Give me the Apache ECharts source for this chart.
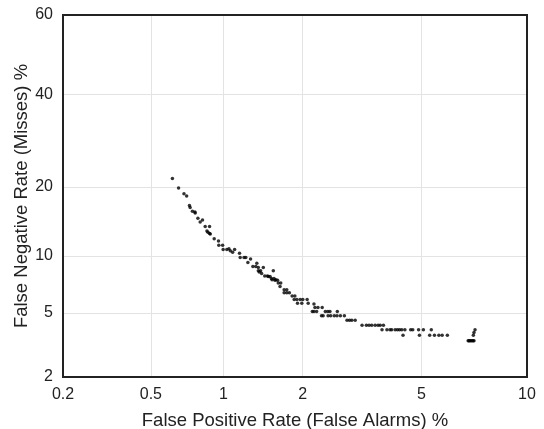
<!DOCTYPE html>
<html>
<head>
<meta charset="utf-8">
<script src="https://cdn.jsdelivr.net/npm/echarts@6/dist/echarts.min.js"></script>
<style>html,body{margin:0;padding:0;background:#fff}#c{width:544px;height:429px}</style>
</head>
<body>
<div id="c"></div>
<script>
// Tick labels (percent)
const xTicks = [0.2, 0.5, 1, 2, 5, 10];
const yTicks = [2, 5, 10, 20, 40, 60];
const xRange = [0.2, 10];
const yRange = [2, 60];

// False positive rate (%) and false negative rate (%)
const fpr = [0.618,0.656,0.691,0.709,0.728,0.733,0.749,0.767,0.769,0.789,0.806,0.824,0.845,0.859,0.867,0.88,0.88,0.886,0.919,0.956,0.959,0.993,0.998,1.032,1.052,1.065,1.088,1.108,1.158,1.165,1.206,1.225,1.248,1.278,1.305,1.339,1.351,1.369,1.369,1.38,1.409,1.43,1.397,1.448,1.482,1.495,1.517,1.534,1.56,1.543,1.569,1.582,1.595,1.619,1.628,1.663,1.653,1.712,1.751,1.712,1.751,1.79,1.832,1.875,1.864,1.907,1.96,2.004,1.917,1.987,2.077,2.095,2.197,2.215,2.27,2.35,2.168,2.197,2.246,2.337,2.368,2.41,2.46,2.502,2.654,2.465,2.517,2.59,2.648,2.72,2.807,2.866,2.923,2.976,3.055,3.222,3.33,3.40,3.47,3.56,3.64,3.70,3.79,3.75,3.89,3.98,4.03,4.135,4.205,4.27,4.34,4.44,4.63,4.70,4.90,5.07,5.36,4.38,4.93,5.30,5.48,5.65,5.78,5.99,7.21,7.16,7.13,6.89,6.93,6.97,7.02,7.07,7.12,7.16];
const fnr = [21.5,19.8,18.8,18.4,16.85,16.5,15.94,15.8,15.65,14.86,14.31,14.6,13.7,13.08,12.9,13.67,12.72,12.67,12.05,11.76,11.25,11.25,10.74,10.74,10.81,10.57,10.42,10.74,10.3,9.81,9.81,9.81,9.27,9.66,8.85,8.85,9.19,8.75,8.42,8.32,8.16,8.75,8.42,7.93,7.93,7.87,7.87,7.7,8.42,7.57,7.7,7.54,7.57,7.54,7.28,7.28,6.98,6.71,6.71,6.47,6.47,6.47,6.2,6.2,5.94,5.94,5.94,5.94,5.67,5.67,5.94,5.67,5.6,5.36,5.36,5.36,5.09,5.09,5.09,4.81,4.81,5.09,5.09,5.09,5.09,4.81,4.81,4.81,4.81,4.81,4.81,4.53,4.53,4.53,4.53,4.24,4.24,4.24,4.24,4.24,4.24,4.24,4.24,3.98,3.98,3.98,3.98,3.98,3.98,3.98,3.98,3.98,3.98,3.98,3.98,3.98,3.98,3.69,3.69,3.69,3.69,3.69,3.69,3.69,3.98,3.84,3.69,3.42,3.42,3.42,3.42,3.42,3.42,3.42];

// Normal deviate (probit) transform used for DET axes
function probit(p) {
  const a=[-3.969683028665376e+01,2.209460984245205e+02,-2.759285104469687e+02,1.383577518672690e+02,-3.066479806614716e+01,2.506628277459239e+00];
  const b=[-5.447609879822406e+01,1.615858368580409e+02,-1.556989798598866e+02,6.680131188771972e+01,-1.328068155288572e+01];
  const c=[-7.784894002430293e-03,-3.223964580411365e-01,-2.400758277161838e+00,-2.549732539343734e+00,4.374664141464968e+00,2.938163982698783e+00];
  const d=[7.784695709041462e-03,3.224671290700398e-01,2.445134137142996e+00,3.754408661907416e+00];
  const pl=0.02425;
  let q,r;
  if (p<pl){q=Math.sqrt(-2*Math.log(p));return (((((c[0]*q+c[1])*q+c[2])*q+c[3])*q+c[4])*q+c[5])/((((d[0]*q+d[1])*q+d[2])*q+d[3])*q+1);}
  if (p<=1-pl){q=p-0.5;r=q*q;return (((((a[0]*r+a[1])*r+a[2])*r+a[3])*r+a[4])*r+a[5])*q/(((((b[0]*r+b[1])*r+b[2])*r+b[3])*r+b[4])*r+1);}
  q=Math.sqrt(-2*Math.log(1-p));return -(((((c[0]*q+c[1])*q+c[2])*q+c[3])*q+c[4])*q+c[5])/((((d[0]*q+d[1])*q+d[2])*q+d[3])*q+1);
}
const pz = v => probit(v/100);
function labelFor(ticks){
  return function(val){
    let best=ticks[0],bd=1e9;
    ticks.forEach(t=>{const dd=Math.abs(pz(t)-val); if(dd<bd){bd=dd;best=t;}});
    return String(best);
  };
}

const txt = {color:'#222', fontFamily:'Liberation Sans, Arial, sans-serif', fontSize:16};
const ttl = {color:'#222', fontFamily:'Liberation Sans, Arial, sans-serif', fontSize:18.5};
const chart = echarts.init(document.getElementById('c'));
chart.setOption({
  animation:false,
  backgroundColor:'#fff',
  grid:{left:63,right:17,top:15,bottom:52,outerBoundsMode:'none',containLabel:false,show:true,borderColor:'#222',borderWidth:2,backgroundColor:'transparent',z:5},
  xAxis:{
    type:'value', min:pz(xRange[0]), max:pz(xRange[1]),
    name:'False Positive Rate (False Alarms) %', nameLocation:'middle', nameGap:34, nameMoveOverlap:false,
    nameTextStyle:ttl,
    axisLine:{show:false}, axisTick:{show:false, customValues:xTicks.map(pz)},
    axisLabel:Object.assign({},txt,{customValues:xTicks.map(pz), formatter:labelFor(xTicks), margin:10, showMinLabel:true, showMaxLabel:true}),
    splitLine:{show:true, showMinLine:false, showMaxLine:false, lineStyle:{color:'#e3e3e3',width:1}}
  },
  yAxis:{
    type:'value', min:pz(yRange[0]), max:pz(yRange[1]),
    name:'False Negative Rate (Misses) %', nameLocation:'middle', nameGap:32, nameMoveOverlap:false,
    nameTextStyle:ttl,
    axisLine:{show:false}, axisTick:{show:false, customValues:yTicks.map(pz)},
    axisLabel:Object.assign({},txt,{customValues:yTicks.map(pz), formatter:labelFor(yTicks), margin:10, showMinLabel:true, showMaxLabel:true}),
    splitLine:{show:true, showMinLine:false, showMaxLine:false, lineStyle:{color:'#e3e3e3',width:1}}
  },
  series:[{
    type:'scatter', symbol:'circle', symbolSize:3.5,
    itemStyle:{color:'#000'},
    data: fpr.map((v,i)=>[pz(v), pz(fnr[i])])
  }]
});
</script>
</body>
</html>
